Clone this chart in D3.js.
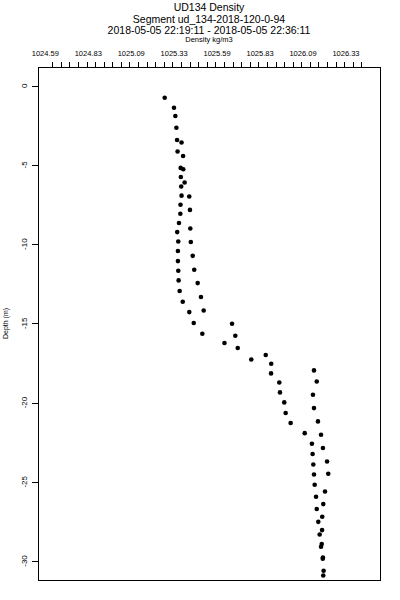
<!DOCTYPE html>
<html lang="en">
<head>
  <meta charset="UTF-8" />
  <title>UD134 Density</title>
  <script src="https://d3js.org/d3.v7.min.js"></script>
  <style>
    body { margin: 0; background: #fff; font-family: "Liberation Sans", Arial, sans-serif; }
    svg { display: block; }
    .axis path { display: none; }
    .axis line { stroke: #000; shape-rendering: crispEdges; }
  </style>
</head>
<body>
<svg id="chart" width="400" height="600"></svg>
<script>
const titleLines = ["UD134 Density", "Segment ud_134-2018-120-0-94", "2018-05-05 22:19:11 - 2018-05-05 22:36:11"];
const xLabel = "Density kg/m3";
const yLabel = "Depth (m)";

// top axis labels (values rounded in the original print)
const xLabelValues = [1024.585, 1024.835, 1025.085, 1025.335, 1025.585, 1025.835, 1026.085, 1026.335];
const xLabelTexts = ["1024.59", "1024.83", "1025.09", "1025.33", "1025.59", "1025.83", "1026.09", "1026.33"];
const xTickStart = 1024.625, xTickStep = 0.05, xTickCount = 37;
const yTickValues = [0, -5, -10, -15, -20, -25, -30];

// profile samples
const density = [
  1025.280, 1025.334, 1025.342, 1025.348, 1025.352, 1025.378, 1025.355, 1025.387, 1025.373, 1025.388,
  1025.374, 1025.396, 1025.376, 1025.378, 1025.423, 1025.372, 1025.427, 1025.371, 1025.363, 1025.429,
  1025.353, 1025.359, 1025.432, 1025.357, 1025.443, 1025.357, 1025.452, 1025.359, 1025.361, 1025.472,
  1025.367, 1025.491, 1025.385, 1025.507, 1025.423, 1025.449, 1025.672, 1025.499, 1025.691, 1025.628,
  1025.705, 1025.784, 1025.868, 1025.900, 1025.899, 1026.149, 1026.165, 1025.947, 1025.951, 1026.143,
  1025.976, 1026.149, 1025.984, 1026.172, 1026.013, 1026.095, 1026.190, 1026.137, 1026.201, 1026.141,
  1026.225, 1026.145, 1026.149, 1026.232, 1026.153, 1026.213, 1026.161, 1026.203, 1026.165, 1026.197,
  1026.174, 1026.196, 1026.182, 1026.194, 1026.190, 1026.201, 1026.200, 1026.205, 1026.203
];
const depth = [
  -0.76, -1.39, -1.91, -2.65, -3.43, -3.59, -4.15, -4.44, -5.19, -5.27,
  -5.76, -6.11, -6.36, -6.94, -6.99, -7.51, -7.84, -8.08, -8.67, -9.01,
  -9.24, -9.83, -9.87, -10.43, -10.74, -11.07, -11.62, -11.68, -12.29, -12.46,
  -12.96, -13.34, -13.64, -14.19, -14.29, -14.98, -15.03, -15.66, -15.78, -16.24,
  -16.56, -17.28, -17.00, -17.55, -18.16, -17.97, -18.67, -18.73, -19.36, -19.51,
  -19.99, -20.35, -20.66, -21.19, -21.29, -21.93, -22.03, -22.60, -22.87, -23.25,
  -23.72, -23.91, -24.54, -24.49, -25.19, -25.61, -25.95, -26.41, -26.72, -27.21,
  -27.53, -28.05, -28.33, -28.93, -29.10, -29.78, -29.86, -30.62, -30.92
];

const svg = d3.select("#chart");
const margin = { top: 67, right: 20, bottom: 20, left: 38 },
      width = 380 - margin.left,
      height = 580 - margin.top;

// 171.8 px per kg/m3, 1024.585 sits at x = 45.3
const x = d3.scaleLinear()
  .domain([1024.585 - 7.3 / 171.8, 1024.585 + 334.7 / 171.8])
  .range([0, width]);
const y = d3.scaleLinear().domain([1.18, -31.2]).range([0, height]);

const g = svg.append("g").attr("transform", `translate(${margin.left},${margin.top})`);

// titles
svg.selectAll(".title")
  .data(titleLines)
  .enter().append("text")
  .attr("class", "title")
  .attr("x", 209)
  .attr("y", (d, i) => 11 + i * 11.5)
  .attr("text-anchor", "middle")
  .attr("font-size", 10.5)
  .text(d => d);

svg.append("text")
  .attr("x", 209).attr("y", 42)
  .attr("text-anchor", "middle")
  .attr("font-size", 7.5)
  .text(xLabel);

// top axis: minor ticks, labels placed separately
const xTicks = d3.range(xTickCount).map(i => xTickStart + i * xTickStep);
g.append("g").attr("class", "axis")
  .call(d3.axisTop(x).tickValues(xTicks).tickSize(5).tickFormat(""));

g.selectAll(".xlab")
  .data(xLabelValues)
  .enter().append("text")
  .attr("class", "xlab")
  .attr("x", d => x(d))
  .attr("y", -11)
  .attr("text-anchor", "middle")
  .attr("font-size", 7.5)
  .text((d, i) => xLabelTexts[i]);

// left axis
g.append("g").attr("class", "axis")
  .call(d3.axisLeft(y).tickValues(yTickValues).tickSize(6).tickFormat(""));

g.selectAll(".ylab")
  .data(yTickValues)
  .enter().append("text")
  .attr("class", "ylab")
  .attr("transform", d => `translate(-11,${y(d)}) rotate(-90)`)
  .attr("text-anchor", "middle")
  .attr("font-size", 8)
  .text(d => d);

svg.append("text")
  .attr("transform", `translate(8,${margin.top + height / 2}) rotate(-90)`)
  .attr("text-anchor", "middle")
  .attr("font-size", 7)
  .text(yLabel);

// frame
g.append("rect")
  .attr("width", width).attr("height", height)
  .attr("fill", "none").attr("stroke", "#000")
  .attr("shape-rendering", "crispEdges");

// points
g.selectAll(".pt")
  .data(density.map((v, i) => ({ v, d: depth[i] })))
  .enter().append("circle")
  .attr("class", "pt")
  .attr("cx", d => x(d.v))
  .attr("cy", d => y(d.d))
  .attr("r", 2.3)
  .attr("fill", "#000");
</script>
</body>
</html>
